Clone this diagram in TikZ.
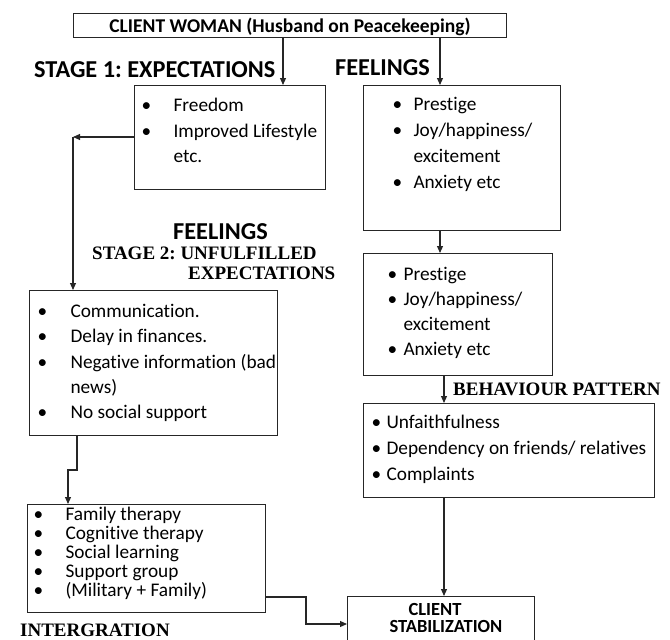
\documentclass[tikz,border=0pt]{standalone}
\usepackage{fontspec}
\setmainfont{Carlito}[Ligatures={NoCommon,NoContextual,NoRare}]
\newfontfamily\tnr{Liberation Serif}
\usetikzlibrary{arrows.meta}
\frenchspacing

% bullet centre and text start, measured from the box's left edge
\newlength{\bulx}
\newlength{\txtx}
\newcommand{\itm}[1]{\noindent\mbox{\hspace*{\bulx}\makebox[0pt][c]{\textbullet}\hspace*{\dimexpr\txtx-\bulx\relax}#1}\strut\par}
\newcommand{\cnt}[1]{\noindent\mbox{\hspace*{\txtx}#1}\strut\par}
% width, height, first baseline, line skip, body
\newcommand{\boxlist}[5]{\parbox[t][#2pt][t]{#1pt}{\fontsize{19.3}{#4}\selectfont\lineskiplimit=-\maxdimen
  \vspace*{\dimexpr#3pt-\ht\strutbox\relax}#5}}

\begin{document}
\begin{tikzpicture}[x=1pt, y=-1pt, >={Triangle[length=7pt,width=6pt]},
  box/.style={draw=black!85, line width=1.1pt, inner sep=0pt, anchor=north west},
  link/.style={->, draw=black!85, line width=1.1pt},
  headsans/.style={inner sep=0pt, anchor=base west, font=\bfseries\fontsize{24.3}{28}\selectfont},
  headserif/.style={inner sep=0pt, anchor=base west, font=\tnr\bfseries\fontsize{19}{22}\selectfont}]
  \useasboundingbox (0,0) rectangle (670,640);

  % --- top box ---
  \node[box, minimum width=433, minimum height=24, text height=19, text depth=5,
    font=\bfseries\fontsize{19.5}{22}\selectfont] (client) at (73,13)
    {CLIENT WOMAN (Husband on Peacekeeping)};

  % --- headings ---
  \node[headsans] (stage1) at (34,77) {STAGE 1: EXPECTATIONS};
  \node[headsans] (feelA) at (335,75) {FEELINGS};
  \node[headsans] (feelB) at (173,239) {FEELINGS};
  \node[headserif] (stage2a) at (92,259) {STAGE 2: UNFULFILLED};
  \node[headserif] (stage2b) at (188,279) {EXPECTATIONS};
  \node[headserif] (behlbl) at (453,395) {BEHAVIOUR PATTERN};
  \node[headserif] (intlbl) at (20,636) {INTERGRATION};

  % --- boxes ---
  \node[box] (expbox) at (134,85) {\boxlist{191}{104}{26}{25.7}{%
    \setlength\bulx{12pt}\setlength\txtx{39pt}%
    \itm{Freedom}\itm{Improved Lifestyle}\cnt{etc.}}};
  \node[box] (feelbox) at (363,85) {\boxlist{197}{145}{25}{26}{%
    \setlength\bulx{34pt}\setlength\txtx{50pt}%
    \itm{Prestige}\itm{Joy/happiness/}\cnt{excitement}\itm{Anxiety etc}}};
  \node[box] (feelboxb) at (363,253) {\boxlist{189}{122}{27}{25}{%
    \setlength\bulx{29pt}\setlength\txtx{40pt}%
    \itm{Prestige}\itm{Joy/happiness/}\cnt{excitement}\itm{Anxiety etc}}};
  \node[box] (behbox) at (363,403) {\boxlist{291}{94}{25}{26}{%
    \setlength\bulx{13pt}\setlength\txtx{23pt}%
    \itm{Unfaithfulness}\itm{Dependency on friends/ relatives}\itm{Complaints}}};
  \node[box] (unfbox) at (29,290) {\boxlist{248}{145}{27}{25.3}{%
    \setlength\bulx{13pt}\setlength\txtx{41pt}%
    \itm{Communication.}\itm{Delay in finances.}\itm{Negative information (bad}%
    \cnt{news)}\itm{No social support}}};
  \node[box] (fambox) at (27,504) {\boxlist{238}{108}{16}{19}{%
    \setlength\bulx{11pt}\setlength\txtx{38pt}%
    \itm{Family therapy}\itm{Cognitive therapy}\itm{Social learning}%
    \itm{Support group}\itm{(Military + Family)}}};
  \node[box] (stabbox) at (347,596) {\boxlist{187}{60}{19}{17}{\bfseries\fontsize{18.5}{17}\selectfont
    \setlength\txtx{61pt}\cnt{CLIENT}\setlength\txtx{42pt}\cnt{STABILIZATION}}};

  % --- connectors ---
  \coordinate (xA) at (283,0);
  \coordinate (xB) at (440,0);
  \coordinate (xC) at (444,0);
  \draw[link] (client.south -| xA) -- (expbox.north -| xA);
  \draw[link] (client.south -| xB) -- (feelbox.north -| xB);
  \draw[link] (feelbox.south -| xB) -- (feelboxb.north -| xB);
  \draw[link] (feelboxb.south -| xC) -- (behbox.north -| xC);
  \draw[link] (behbox.south -| xC) -- (stabbox.north -| xC);
  \coordinate (bendA) at (73,137);
  \draw[link] (expbox.west |- bendA) -- (bendA);
  \draw[link] (bendA) -- (unfbox.north -| bendA);
  \coordinate (bendB1) at (77,470);
  \coordinate (bendB2) at (68,470);
  \draw[link] (unfbox.south -| bendB1) -- (bendB1) -- (bendB2) -- (fambox.north -| bendB2);
  \coordinate (bendC1) at (306,597);
  \coordinate (bendC2) at (306,624);
  \draw[link] (fambox.east |- bendC1) -- (bendC1) -- (bendC2) -- (stabbox.west |- bendC2);
\end{tikzpicture}
\end{document}
